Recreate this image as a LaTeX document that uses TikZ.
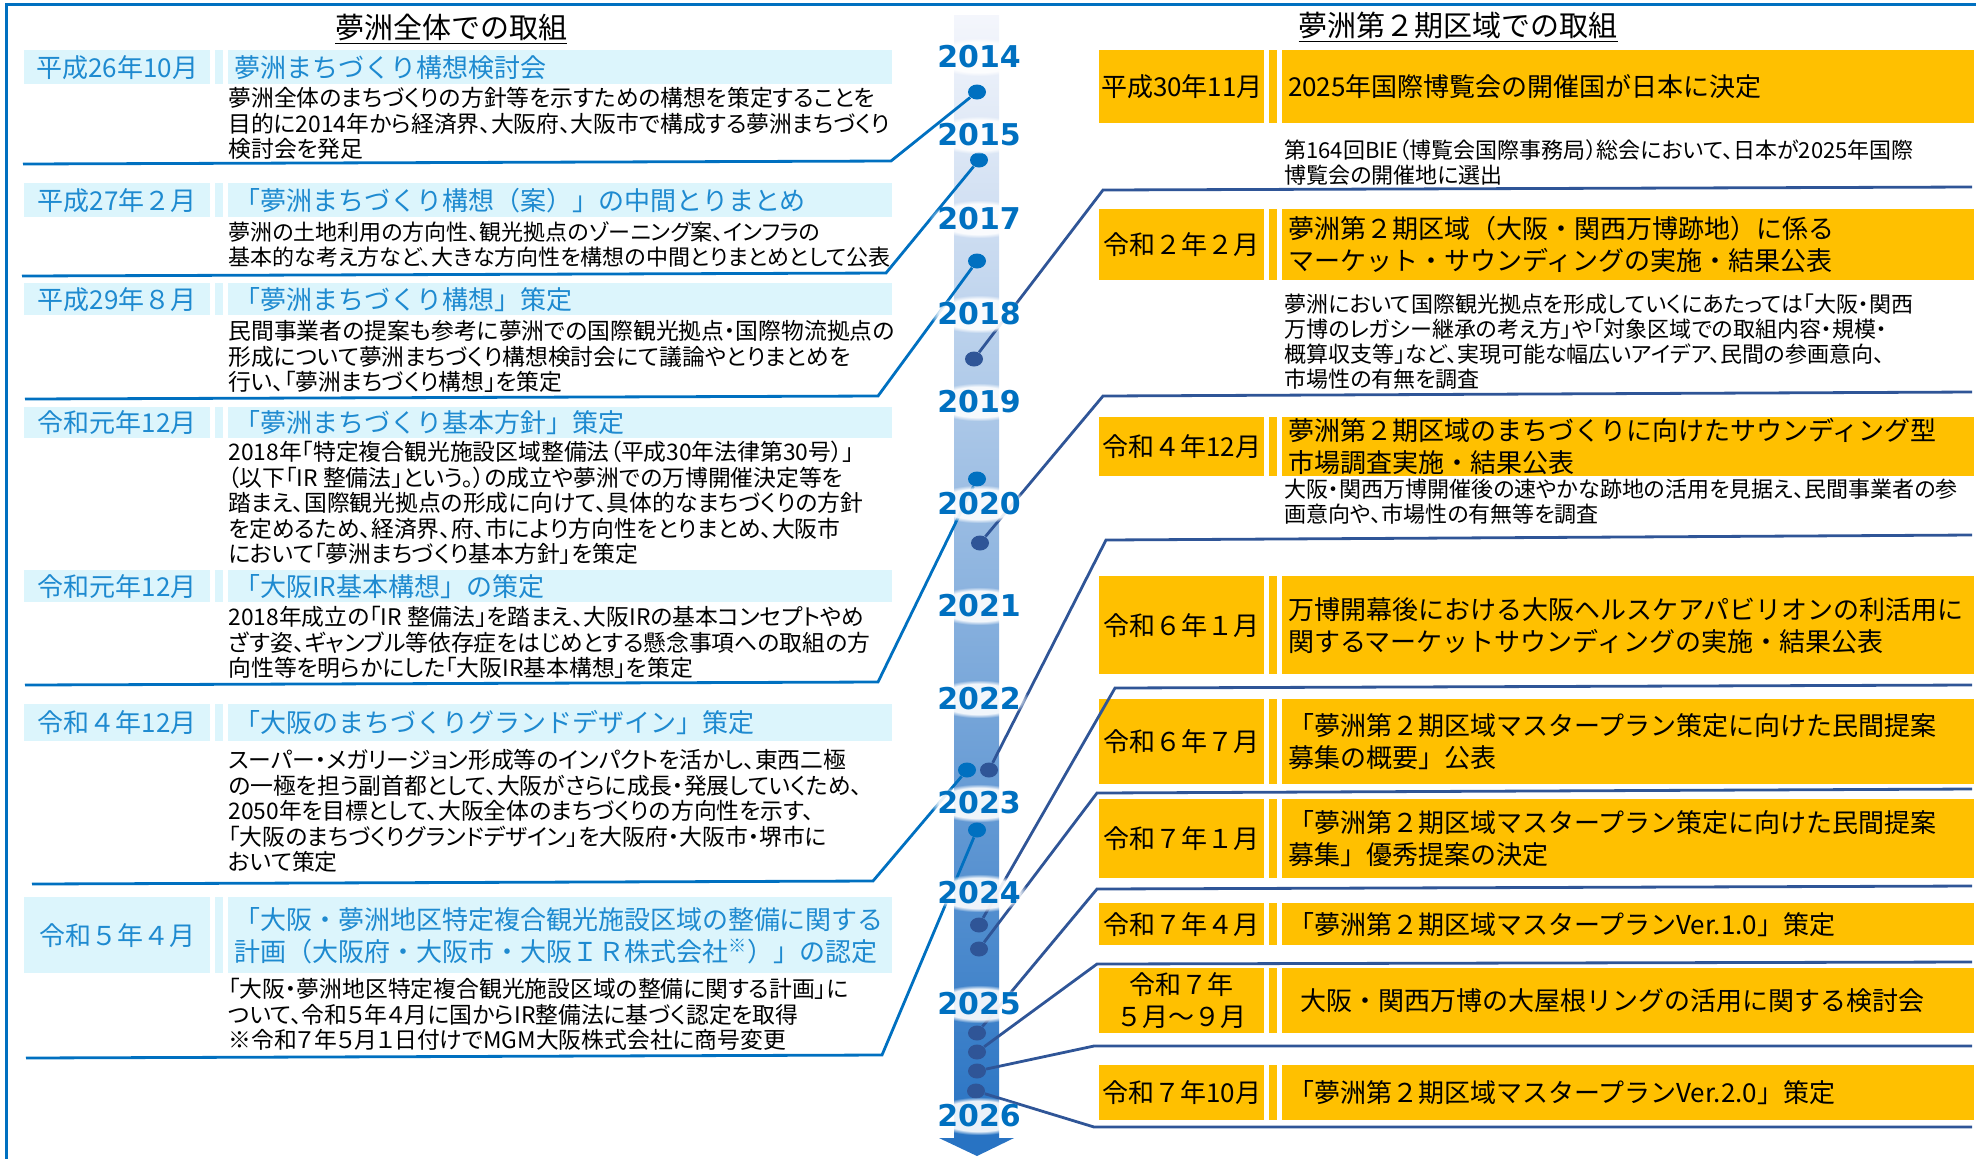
\documentclass[tikz,border=0pt]{standalone}
\usepackage{fontspec}
\setmainfont{Noto Sans CJK JP}[RawFeature=+palt]
\newfontfamily\jpfull{Noto Sans CJK JP}
\newfontfamily\yearfont{DejaVu Sans}
\usepackage{tikz}
\usetikzlibrary{positioning, shapes.geometric, fadings}
\definecolor{lblue}{RGB}{0,112,192}
\definecolor{lcyan}{RGB}{220,245,252}
\definecolor{ltext}{RGB}{30,138,208}
\definecolor{navy}{RGB}{47,85,151}
\definecolor{gold}{RGB}{255,192,0}
\definecolor{bartop}{RGB}{244,246,252}
\definecolor{barmid}{RGB}{183,198,229}
\definecolor{barbot}{RGB}{40,115,195}

\begin{document}
\begin{tikzpicture}[x=0.5pt, y=-0.5pt, node distance=2pt,
  head/.style={font=\jpfull\fontsize{14.5}{16}\selectfont},
  ldate/.style={anchor=north west, fill=lcyan, text=ltext, minimum width=93pt, inner sep=0pt, font=\jpfull\fontsize{13}{15}\selectfont},
  lstrip/.style={fill=lcyan, minimum width=4pt, inner sep=0pt},
  ltitle/.style={fill=lcyan, text=ltext, text width=326pt, inner xsep=3pt, inner ysep=0pt, align=left, font=\jpfull\fontsize{13}{16}\selectfont},
  lbody/.style={anchor=north west, inner xsep=2pt, inner ysep=0pt, align=left, font=\fontsize{11.4}{12.75}\selectfont},
  rdate/.style={anchor=north west, fill=gold, minimum width=82.5pt, inner sep=0pt, align=center, font=\jpfull\fontsize{13}{16}\selectfont},
  rstrip/.style={fill=gold, minimum width=4pt, inner sep=0pt},
  rtitle/.style={fill=gold, text width=340pt, inner xsep=3pt, inner ysep=0pt, align=left, font=\jpfull\fontsize{13}{16}\selectfont},
  rbody/.style={anchor=north west, inner xsep=2pt, inner ysep=0pt, align=left, font=\fontsize{11}{12.5}\selectfont},
  ldot/.style={ellipse, fill=lblue, minimum width=9pt, minimum height=7.5pt, inner sep=0pt},
  rdot/.style={ellipse, fill=navy, minimum width=9pt, minimum height=7.5pt, inner sep=0pt},
  lsep/.style={draw=lblue, line width=1.4pt},
  rsep/.style={draw=navy, line width=1.4pt},
  halo/.style={white, opacity=0.9, path fading=circle with fuzzy edge 20 percent},
  yr/.style={text=lblue, font=\yearfont\bfseries\fontsize{15}{15}\selectfont}]
  \useasboundingbox (0,0) rectangle (1976,1158);

  % frame and time axis
  \draw[lblue, line width=1.5pt] (6,1170) -- (6,4) -- (1990,4);
  \shade[top color=bartop, middle color=barmid, bottom color=barbot] (954,15) rectangle (999,1139);
  \fill[barbot] (939,1138) -- (1014,1138) -- (977,1156) -- cycle;

  \node[head] (lhead) at (451,29) {\underline{夢洲全体での取組}};
  \node[head] (rhead) at (1458,27) {\underline{夢洲第２期区域での取組}};

  % left column
  \node[ldate, minimum height=17pt] (ld1) at (24,50) {平成26年10月};
  \node[lstrip, minimum height=17pt, right=of ld1] (lk1) {};
  \node[ltitle, minimum height=17pt, right=of lk1] (lt1) {夢洲まちづくり構想検討会};
  \node[lbody] (lb1) at (224,87) {夢洲全体のまちづくりの方針等を示すための構想を策定することを\\目的に2014年から経済界、大阪府、大阪市で構成する夢洲まちづくり\\検討会を発足};

  \node[ldate, minimum height=17pt] (ld2) at (24,183) {平成27年２月};
  \node[lstrip, minimum height=17pt, right=of ld2] (lk2) {};
  \node[ltitle, minimum height=17pt, right=of lk2] (lt2) {「夢洲まちづくり構想（案）」の中間とりまとめ};
  \node[lbody, font=\fontsize{11}{12.75}\selectfont] (lb2) at (224,221) {夢洲の土地利用の方向性、観光拠点のゾーニング案、インフラの\\基本的な考え方など、大きな方向性を構想の中間とりまとめとして公表};

  \node[ldate, minimum height=16pt] (ld3) at (24,283) {平成29年８月};
  \node[lstrip, minimum height=16pt, right=of ld3] (lk3) {};
  \node[ltitle, minimum height=16pt, right=of lk3] (lt3) {「夢洲まちづくり構想」策定};
  \node[lbody] (lb3) at (224,320) {民間事業者の提案も参考に夢洲での国際観光拠点・国際物流拠点の\\形成について夢洲まちづくり構想検討会にて議論やとりまとめを\\行い、「夢洲まちづくり構想」を策定};

  \node[ldate, minimum height=15.5pt] (ld4) at (24,407) {令和元年12月};
  \node[lstrip, minimum height=15.5pt, right=of ld4] (lk4) {};
  \node[ltitle, minimum height=15.5pt, right=of lk4] (lt4) {「夢洲まちづくり基本方針」策定};
  \node[lbody] (lb4) at (224,441) {2018年「特定複合観光施設区域整備法（平成30年法律第30号）」\\（以下「IR 整備法」という。）の成立や夢洲での万博開催決定等を\\踏まえ、国際観光拠点の形成に向けて、具体的なまちづくりの方針\\を定めるため、経済界、府、市により方向性をとりまとめ、大阪市\\において「夢洲まちづくり基本方針」を策定};

  \node[ldate, minimum height=16pt] (ld5) at (24,570) {令和元年12月};
  \node[lstrip, minimum height=16pt, right=of ld5] (lk5) {};
  \node[ltitle, minimum height=16pt, right=of lk5] (lt5) {「大阪IR基本構想」の策定};
  \node[lbody] (lb5) at (224,606) {2018年成立の「IR 整備法」を踏まえ、大阪IRの基本コンセプトやめ\\ざす姿、ギャンブル等依存症をはじめとする懸念事項への取組の方\\向性等を明らかにした「大阪IR基本構想」を策定};

  \node[ldate, minimum height=18.5pt] (ld6) at (24,704) {令和４年12月};
  \node[lstrip, minimum height=18.5pt, right=of ld6] (lk6) {};
  \node[ltitle, minimum height=18.5pt, right=of lk6] (lt6) {「大阪のまちづくりグランドデザイン」策定};
  \node[lbody] (lb6) at (224,749) {スーパー・メガリージョン形成等のインパクトを活かし、東西二極\\の一極を担う副首都として、大阪がさらに成長・発展していくため、\\2050年を目標として、大阪全体のまちづくりの方向性を示す、\\「大阪のまちづくりグランドデザイン」を大阪府・大阪市・堺市に\\おいて策定};

  \node[ldate, minimum height=38pt] (ld7) at (24,897) {令和５年４月};
  \node[lstrip, minimum height=38pt, right=of ld7] (lk7) {};
  \node[ltitle, minimum height=38pt, right=of lk7] (lt7) {「大阪・夢洲地区特定複合観光施設区域の整備に関する\\計画（大阪府・大阪市・大阪ＩＲ株式会社\textsuperscript{※}）」の認定};
  \node[lbody] (lb7) at (224,978) {「大阪・夢洲地区特定複合観光施設区域の整備に関する計画」に\\ついて、令和５年４月に国からIR整備法に基づく認定を取得\\※令和７年５月１日付けでMGM大阪株式会社に商号変更};

  % right column
  \node[rdate, minimum height=36.5pt] (rd1) at (1099,50) {平成30年11月};
  \node[rstrip, minimum height=36.5pt, right=of rd1] (rk1) {};
  \node[rtitle, minimum height=36.5pt, right=of rk1] (rt1) {2025年国際博覧会の開催国が日本に決定};
  \node[rbody] (rb1) at (1280,139) {第164回BIE（博覧会国際事務局）総会において、日本が2025年国際\\博覧会の開催地に選出};

  \node[rdate, minimum height=35.5pt] (rd2) at (1099,209) {令和２年２月};
  \node[rstrip, minimum height=35.5pt, right=of rd2] (rk2) {};
  \node[rtitle, minimum height=35.5pt, right=of rk2] (rt2) {夢洲第２期区域（大阪・関西万博跡地）に係る\\マーケット・サウンディングの実施・結果公表};
  \node[rbody] (rb2) at (1280,293) {夢洲において国際観光拠点を形成していくにあたっては「大阪・関西\\万博のレガシー継承の考え方」や「対象区域での取組内容・規模・\\概算収支等」など、実現可能な幅広いアイデア、民間の参画意向、\\市場性の有無を調査};

  \node[rdate, minimum height=29.5pt] (rd3) at (1099,417) {令和４年12月};
  \node[rstrip, minimum height=29.5pt, right=of rd3] (rk3) {};
  \node[rtitle, minimum height=29.5pt, right=of rk3] (rt3) {夢洲第２期区域のまちづくりに向けたサウンディング型\\市場調査実施・結果公表};
  \node[rbody] (rb3) at (1280,479) {大阪・関西万博開催後の速やかな跡地の活用を見据え、民間事業者の参\\画意向や、市場性の有無等を調査};

  \node[rdate, minimum height=49pt] (rd4) at (1099,576) {令和６年１月};
  \node[rstrip, minimum height=49pt, right=of rd4] (rk4) {};
  \node[rtitle, minimum height=49pt, right=of rk4] (rt4) {万博開幕後における大阪ヘルスケアパビリオンの利活用に\\関するマーケットサウンディングの実施・結果公表};

  \node[rdate, minimum height=42.5pt] (rd5) at (1099,699) {令和６年７月};
  \node[rstrip, minimum height=42.5pt, right=of rd5] (rk5) {};
  \node[rtitle, minimum height=42.5pt, right=of rk5] (rt5) {「夢洲第２期区域マスタープラン策定に向けた民間提案\\募集の概要」公表};

  \node[rdate, minimum height=39.5pt] (rd6) at (1099,799) {令和７年１月};
  \node[rstrip, minimum height=39.5pt, right=of rd6] (rk6) {};
  \node[rtitle, minimum height=39.5pt, right=of rk6] (rt6) {「夢洲第２期区域マスタープラン策定に向けた民間提案\\募集」優秀提案の決定};

  \node[rdate, minimum height=21pt] (rd7) at (1099,903) {令和７年４月};
  \node[rstrip, minimum height=21pt, right=of rd7] (rk7) {};
  \node[rtitle, minimum height=21pt, right=of rk7] (rt7) {「夢洲第２期区域マスタープランVer.1.0」策定};

  \node[rdate, minimum height=32.5pt] (rd8) at (1099,968) {令和７年\\５月～９月};
  \node[rstrip, minimum height=32.5pt, right=of rd8] (rk8) {};
  \node[rtitle, minimum height=32.5pt, right=of rk8] (rt8) {\hspace*{6pt}大阪・関西万博の大屋根リングの活用に関する検討会};

  \node[rdate, minimum height=27.5pt] (rd9) at (1099,1065) {令和７年10月};
  \node[rstrip, minimum height=27.5pt, right=of rd9] (rk9) {};
  \node[rtitle, minimum height=27.5pt, right=of rk9] (rt9) {「夢洲第２期区域マスタープランVer.2.0」策定};

  % dots on the axis
  \node[ldot] (d1) at (977,92) {};
  \node[ldot] (d2) at (979,160) {};
  \node[ldot] (d3) at (977,261) {};
  \node[ldot] (d4) at (977,479) {};
  \node[ldot] (d5) at (967,770) {};
  \node[ldot] (d6) at (977,830) {};
  \node[rdot] (r1) at (974,359) {};
  \node[rdot] (r2) at (980,543) {};
  \node[rdot] (r3) at (989,770) {};
  \node[rdot] (r4) at (979,925) {};
  \node[rdot] (r5) at (979,949) {};
  \node[rdot] (r6) at (977,1033) {};
  \node[rdot] (r7) at (977,1052) {};
  \node[rdot] (r8) at (977,1071) {};
  \node[rdot] (r9) at (976,1091) {};

  % left separators
  \coordinate (la1) at (23,164);  \coordinate (lc1) at (891,161);
  \coordinate (la2) at (22,276);  \coordinate (lc2) at (886,273);
  \coordinate (la3) at (25,399);  \coordinate (lc3) at (878,396);
  \coordinate (la5) at (25,685);  \coordinate (lc5) at (878,682);
  \coordinate (la6) at (32,884);  \coordinate (lc6) at (873,881);
  \coordinate (la7) at (26,1058); \coordinate (lc7) at (882,1055);
  \draw[lsep] (la1) -- (lc1) -- (d1);
  \draw[lsep] (la2) -- (lc2) -- (d2);
  \draw[lsep] (la3) -- (lc3) -- (d3);
  \draw[lsep] (la5) -- (lc5) -- (d4);
  \draw[lsep] (la6) -- (lc6) -- (d5);
  \draw[lsep] (la7) -- (lc7) -- (d6);

  % right separators
  \coordinate (rc1) at (1103,190);  \coordinate (ra1) at (1972,187);
  \coordinate (rc2) at (1103,396);  \coordinate (ra2) at (1972,392);
  \coordinate (rc3) at (1106,540);  \coordinate (ra3) at (1972,535);
  \coordinate (rc4) at (1115,688);  \coordinate (ra4) at (1972,685);
  \coordinate (rc5) at (1097,793);  \coordinate (ra5) at (1972,789);
  \coordinate (rc6) at (1097,889);  \coordinate (ra6) at (1972,886);
  \coordinate (rc7) at (1097,964);  \coordinate (ra7) at (1972,962);
  \coordinate (rc8) at (1094,1046); \coordinate (ra8) at (1972,1046);
  \coordinate (rc9) at (1094,1127); \coordinate (ra9) at (1972,1127);
  \draw[rsep] (r1) -- (rc1) -- (ra1);
  \draw[rsep] (r2) -- (rc2) -- (ra2);
  \draw[rsep] (r3) -- (rc3) -- (ra3);
  \draw[rsep] (r4) -- (rc4) -- (ra4);
  \draw[rsep] (r5) -- (rc5) -- (ra5);
  \draw[rsep] (r6) -- (rc6) -- (ra6);
  \draw[rsep] (r7) -- (rc7) -- (ra7);
  \draw[rsep] (r8) -- (rc8) -- (ra8);
  \draw[rsep] (r9) -- (rc9) -- (ra9);

  % years
  \foreach \yv/\yt in {57/2014, 135/2015, 219/2017, 314/2018, 402/2019, 504/2020, 606/2021, 699/2022, 803/2023, 893/2024, 1004/2025, 1116/2026}{
    \fill[halo] (929,{\yv-19}) rectangle (1029,{\yv+19});
    \node[yr] (y\yt) at (979,\yv) {\yt};
  }
\end{tikzpicture}
\end{document}
